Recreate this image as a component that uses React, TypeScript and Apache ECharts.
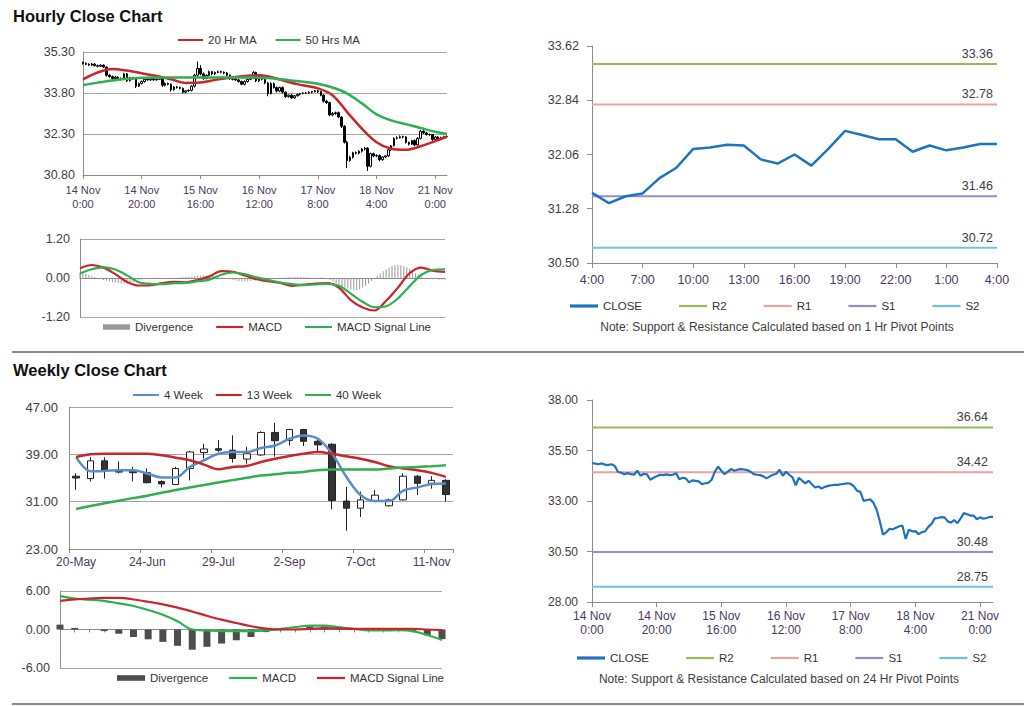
import React, { useEffect, useRef } from "react";
import * as echarts from "echarts";

const FONT = "'Liberation Sans', Arial, sans-serif";

// ---------------- Hourly data: 14 Nov 0:00 .. 21 Nov 4:00 (125 bars) ----------------
const hourTickLabels = ["14 Nov\n0:00", "14 Nov\n20:00", "15 Nov\n16:00", "16 Nov\n12:00", "17 Nov\n8:00", "18 Nov\n4:00", "21 Nov\n0:00"];

const hourlyOpen = [
  34.92, 34.88, 34.85, 34.82, 34.86, 34.80, 34.78, 34.82, 34.75, 34.45,
  34.40, 34.33, 34.38, 34.33, 34.30, 34.50, 34.25, 34.35, 34.32, 34.05,
  34.15, 34.22, 34.30, 34.28, 34.32, 34.28, 34.30, 34.38, 34.08, 34.15,
  34.12, 33.92, 34.02, 34.00, 33.97, 33.83, 33.88, 33.90, 34.05, 34.45,
  34.70, 34.50, 34.33, 34.45, 34.58, 34.50, 34.55, 34.58, 34.56, 34.53,
  34.45, 34.33, 34.30, 34.28, 34.22, 34.12, 34.22, 34.30, 34.35, 34.55,
  34.25, 34.45, 34.30, 34.17, 33.78, 34.15, 34.00, 33.87, 34.00, 33.83,
  33.67, 33.72, 33.62, 33.70, 33.75, 33.78, 33.80, 33.80, 33.83, 33.85,
  33.88, 33.85, 33.72, 33.50, 33.45, 33.00, 33.05, 33.08, 32.92, 32.58,
  32.00, 31.33, 31.45, 31.62, 31.60, 31.67, 31.75, 31.78, 31.12, 31.58,
  31.50, 31.51, 31.36, 31.46, 31.50, 31.72, 31.87, 32.14, 32.16, 32.20,
  32.19, 31.99, 31.93, 32.06, 31.90, 32.14, 32.40, 32.34, 32.28, 32.28,
  32.10, 32.19, 32.12, 32.16, 32.21,
];
const hourlyClose = [
  34.88, 34.85, 34.82, 34.86, 34.80, 34.78, 34.82, 34.75, 34.45, 34.40,
  34.33, 34.38, 34.33, 34.30, 34.50, 34.25, 34.35, 34.32, 34.05, 34.15,
  34.22, 34.30, 34.28, 34.32, 34.28, 34.30, 34.38, 34.08, 34.15, 34.12,
  33.92, 34.02, 34.00, 33.97, 33.83, 33.88, 33.90, 34.05, 34.45, 34.70,
  34.50, 34.33, 34.45, 34.58, 34.50, 34.55, 34.58, 34.56, 34.53, 34.45,
  34.33, 34.30, 34.28, 34.22, 34.12, 34.22, 34.30, 34.35, 34.55, 34.25,
  34.45, 34.30, 34.17, 33.78, 34.15, 34.00, 33.87, 34.00, 33.83, 33.67,
  33.72, 33.62, 33.70, 33.75, 33.78, 33.80, 33.80, 33.83, 33.85, 33.88,
  33.85, 33.72, 33.50, 33.45, 33.00, 33.05, 33.08, 32.92, 32.58, 32.00,
  31.33, 31.45, 31.62, 31.60, 31.67, 31.75, 31.78, 31.12, 31.58, 31.50,
  31.51, 31.36, 31.46, 31.50, 31.72, 31.87, 32.14, 32.16, 32.20, 32.19,
  31.99, 31.93, 32.06, 31.90, 32.14, 32.40, 32.34, 32.28, 32.28, 32.10,
  32.19, 32.12, 32.16, 32.21, 32.21,
];
const hourlyHigh = [
  34.95, 34.92, 34.89, 34.90, 34.89, 34.84, 34.85, 34.85, 34.78, 34.50,
  34.44, 34.42, 34.41, 34.37, 34.54, 34.53, 34.39, 34.39, 34.35, 34.18,
  34.26, 34.34, 34.33, 34.36, 34.35, 34.34, 34.42, 34.41, 34.19, 34.18,
  34.15, 34.05, 34.06, 34.04, 34.00, 33.91, 33.93, 34.08, 34.50, 34.95,
  34.82, 34.55, 34.48, 34.62, 34.61, 34.59, 34.62, 34.62, 34.59, 34.57,
  34.48, 34.37, 34.33, 34.31, 34.25, 34.26, 34.33, 34.38, 34.60, 34.58,
  34.49, 34.48, 34.33, 34.21, 34.19, 34.18, 34.04, 34.03, 34.04, 33.86,
  33.75, 33.76, 33.73, 33.78, 33.80, 33.83, 33.84, 33.86, 33.88, 33.91,
  33.91, 33.88, 33.75, 33.55, 33.48, 33.10, 33.12, 33.12, 32.95, 32.62,
  32.05, 31.50, 31.65, 31.66, 31.70, 31.78, 31.82, 31.82, 31.62, 31.62,
  31.56, 31.55, 31.48, 31.52, 31.75, 31.90, 32.18, 32.22, 32.25, 32.24,
  32.22, 32.02, 32.09, 32.10, 32.18, 32.45, 32.44, 32.38, 32.32, 32.30,
  32.23, 32.22, 32.20, 32.24, 32.25,
];
const hourlyLow = [
  34.84, 34.82, 34.79, 34.79, 34.77, 34.74, 34.75, 34.72, 34.40, 34.36,
  34.28, 34.30, 34.29, 34.26, 34.27, 34.20, 34.22, 34.28, 33.98, 34.02,
  34.11, 34.18, 34.25, 34.24, 34.25, 34.25, 34.27, 34.02, 34.04, 34.08,
  33.85, 33.88, 33.96, 33.93, 33.78, 33.79, 33.84, 33.86, 34.00, 34.40,
  34.45, 34.28, 34.30, 34.41, 34.45, 34.46, 34.52, 34.52, 34.49, 34.40,
  34.28, 34.26, 34.24, 34.18, 34.08, 34.08, 34.18, 34.27, 34.31, 34.20,
  34.20, 34.26, 34.12, 33.68, 33.74, 33.96, 33.82, 33.83, 33.78, 33.62,
  33.63, 33.58, 33.59, 33.67, 33.71, 33.75, 33.76, 33.77, 33.79, 33.82,
  33.80, 33.68, 33.45, 33.40, 32.95, 32.95, 33.00, 32.88, 32.52, 31.95,
  31.05, 31.28, 31.40, 31.55, 31.55, 31.62, 31.70, 30.95, 31.08, 31.45,
  31.45, 31.30, 31.32, 31.42, 31.46, 31.68, 31.84, 32.10, 32.13, 32.14,
  31.95, 31.88, 31.90, 31.86, 31.88, 32.10, 32.30, 32.24, 32.22, 32.05,
  32.06, 32.08, 32.10, 32.13, 32.16,
];

const maHours = [0, 5, 10, 15, 20, 25, 30, 35, 40, 45, 50, 55, 60, 65, 70, 75, 80, 85, 90, 95, 100, 105, 110, 115, 120, 124];
const hourlyMA20 = [34.30, 34.55, 34.68, 34.62, 34.52, 34.42, 34.30, 34.17, 34.18, 34.28, 34.36, 34.42, 34.45, 34.36, 34.20, 34.08, 33.97, 33.72, 33.10, 32.50, 32.00, 31.76, 31.72, 31.85, 32.04, 32.20];
const hourlyMA50 = [34.09, 34.18, 34.26, 34.32, 34.36, 34.37, 34.37, 34.37, 34.37, 34.37, 34.37, 34.37, 34.36, 34.33, 34.27, 34.21, 34.14, 34.00, 33.78, 33.42, 33.02, 32.80, 32.66, 32.52, 32.38, 32.30];

const macdHours = [0, 4, 8, 12, 16, 20, 24, 28, 32, 36, 40, 44, 48, 52, 56, 60, 64, 68, 72, 76, 80, 84, 88, 92, 96, 100, 104, 108, 112, 116, 120, 124];
const hourlyMACD = [0.30, 0.40, 0.32, 0.12, -0.12, -0.23, -0.22, -0.16, -0.12, -0.13, -0.06, 0.05, 0.21, 0.19, 0.08, -0.04, -0.10, -0.15, -0.24, -0.20, -0.17, -0.16, -0.30, -0.68, -0.91, -1.00, -0.70, -0.30, 0.15, 0.32, 0.22, 0.19];
const hourlySignal = [0.14, 0.27, 0.33, 0.26, 0.08, -0.13, -0.18, -0.19, -0.16, -0.15, -0.10, -0.05, 0.10, 0.17, 0.12, 0.02, -0.06, -0.14, -0.19, -0.22, -0.20, -0.18, -0.24, -0.48, -0.73, -0.90, -0.87, -0.63, -0.25, 0.10, 0.25, 0.27];
const hourlyDivergence = [
  0.16, 0.14, 0.12, 0.09, 0.06, 0.03, 0.00, -0.03, -0.06, -0.08,
  -0.10, -0.12, -0.14, -0.16, -0.17, -0.17, -0.16, -0.14, -0.12, -0.09,
  -0.07, -0.05, -0.03, -0.02, -0.01, 0.00, 0.01, 0.01, 0.00, -0.01,
  -0.01, 0.00, 0.01, 0.01, 0.02, 0.02, 0.03, 0.04, 0.05, 0.06,
  0.07, 0.08, 0.08, 0.08, 0.07, 0.06, 0.05, 0.04, 0.02, 0.00,
  -0.02, -0.04, -0.06, -0.08, -0.10, -0.11, -0.11, -0.10, -0.09, -0.07,
  -0.05, -0.04, -0.03, -0.02, -0.01, -0.01, 0.00, 0.00, 0.01, 0.01,
  0.02, 0.02, 0.02, 0.03, 0.03, 0.03, 0.02, 0.02, 0.01, 0.00,
  0.00, 0.01, 0.02, 0.01, -0.02, -0.06, -0.10, -0.15, -0.20, -0.25,
  -0.29, -0.32, -0.35, -0.37, -0.37, -0.35, -0.30, -0.24, -0.17, -0.09,
  -0.01, 0.07, 0.14, 0.21, 0.27, 0.32, 0.36, 0.39, 0.40, 0.39,
  0.37, 0.33, 0.28, 0.22, 0.15, 0.09, 0.04, 0.00, -0.02, -0.03,
  -0.04, -0.04, -0.05, -0.05, -0.05,
];

// Last 24 hours (20 Nov 4:00 .. 21 Nov 4:00)
const dayHours = ["4:00", "5:00", "6:00", "7:00", "8:00", "9:00", "10:00", "11:00", "12:00", "13:00", "14:00", "15:00", "16:00", "17:00", "18:00", "19:00", "20:00", "21:00", "22:00", "23:00", "0:00", "1:00", "2:00", "3:00", "4:00"];
const dayClose = hourlyClose.slice(-dayHours.length);

const pivotNames = ["R2", "R1", "S1", "S2"];
const hourPivots = [33.36, 32.78, 31.46, 30.72];
const dailyPivots = [36.64, 34.42, 30.48, 28.75];

// ---------------- Weekly data ----------------
const weekDates = ["20-May", "27-May", "3-Jun", "10-Jun", "17-Jun", "24-Jun", "1-Jul", "8-Jul", "15-Jul", "22-Jul", "29-Jul", "5-Aug", "12-Aug", "19-Aug", "26-Aug", "2-Sep", "9-Sep", "16-Sep", "23-Sep", "30-Sep", "7-Oct", "14-Oct", "21-Oct", "28-Oct", "4-Nov", "11-Nov", "18-Nov"];
const weekOpen = [35.3, 34.9, 37.9, 36.2, 36.2, 35.9, 34.4, 33.9, 36.6, 39.3, 39.95, 39.7, 38.2, 38.9, 42.7, 41.35, 43.2, 41.2, 40.7, 31.1, 29.9, 31.2, 30.3, 31.3, 35.3, 34.1, 34.6];
const weekClose = [35.0, 37.9, 36.3, 36.0, 35.9, 34.2, 34.0, 36.6, 39.4, 39.9, 39.7, 38.3, 39.1, 42.7, 41.3, 43.2, 41.2, 40.6, 31.2, 29.9, 31.3, 32.1, 31.3, 35.3, 34.1, 34.6, 32.2];
const weekLow = [33.0, 34.4, 34.9, 35.8, 34.4, 34.1, 33.4, 33.8, 34.6, 38.3, 39.4, 37.6, 37.4, 38.7, 38.6, 40.5, 40.4, 39.2, 29.7, 26.1, 28.4, 31.0, 30.2, 31.2, 32.1, 33.2, 31.0];
const weekHigh = [35.8, 38.5, 38.5, 37.8, 36.9, 36.6, 34.6, 36.9, 39.6, 40.8, 41.4, 42.2, 40.3, 42.9, 44.3, 43.3, 43.3, 41.5, 40.9, 33.5, 32.7, 33.0, 31.5, 35.8, 35.5, 35.3, 34.8];
const ma4Week = [38.55, 36.15, 36.2, 36.3, 36.3, 35.76, 35.1, 35.1, 36.87, 38.0, 39.1, 39.4, 39.4, 40.06, 40.5, 41.63, 42.19, 41.63, 39.1, 35.2, 32.12, 31.1, 31.1, 32.85, 33.41, 33.97, 34.08];
const ma13Week = [38.55, 39.0, 39.1, 39.1, 39.1, 39.1, 38.83, 38.44, 38.0, 37.27, 36.48, 36.87, 37.04, 37.71, 38.27, 38.72, 39.1, 39.4, 39.1, 38.66, 38.27, 37.71, 36.99, 36.6, 36.31, 35.87, 35.2];
const ma40Week = [29.77, 30.27, 30.72, 31.17, 31.6, 32.0, 32.5, 32.96, 33.4, 33.8, 34.25, 34.64, 35.03, 35.42, 35.64, 35.87, 36.03, 36.31, 36.43, 36.43, 36.43, 36.43, 36.6, 36.76, 36.87, 36.99, 37.15];
const weekMACD = [5.19, 4.83, 4.65, 4.47, 4.07, 3.66, 3.05, 2.29, 1.27, 0.0, -0.15, -0.25, -0.25, -0.25, -0.15, 0.1, 0.36, 0.61, 0.61, 0.36, 0.1, -0.15, -0.15, -0.1, -0.25, -0.86, -1.63];
const weekSignal = [4.47, 4.68, 4.83, 4.93, 4.93, 4.68, 4.32, 3.92, 3.41, 2.8, 2.14, 1.53, 1.02, 0.51, 0.15, 0.0, 0.0, 0.1, 0.2, 0.15, 0.1, 0.1, 0.1, 0.1, 0.1, 0.0, -0.1];
const weekDivergence = [0.76, 0.25, 0.0, -0.25, -0.66, -1.17, -1.53, -1.93, -2.54, -3.15, -2.7, -2.19, -1.68, -1.17, -0.4, -0.1, 0.1, 0.5, 0.5, 0.25, 0.05, -0.1, -0.1, -0.1, -0.25, -0.9, -1.5];

// ---------------- Styling ----------------
const RED = "#C8262C";
const GREEN = "#2DB04E";
const BLUE4 = "#5B8DC8";
const CLOSE_BLUE = "#1E73BE";
const pivotColors = ["#9BBB59", "#EBA3A3", "#9E8BC4", "#6CC6E0"];
const GRID = "#a6a6a6";
const AXIS = "#8c8c8c";
const LABEL = "#404040";
const DATE = "#4b3a5c";
const lineIcon = "path://M0,0H30V2.4H0Z";
const thickIcon = "path://M0,0H30V3.4H0Z";
const barIcon = "path://M0,0H30V6H0Z";

const hourCats = hourlyClose.map((_, i) => String(i));
const hourFormatter = (_v: string, i: number) => (i % 20 === 0 ? hourTickLabels[i / 20] ?? "" : "");
const fmt2 = (v: number) => v.toFixed(2);
const stripPrefix = (n: string) => n.replace(/^(wk|d):/, "");

function yAxis(grid: number, min: number, max: number, interval: number, extra: any = {}) {
  return {
    type: "value",
    gridIndex: grid,
    min,
    max,
    interval,
    axisLine: { show: true, lineStyle: { color: AXIS, width: 1 } },
    axisTick: { show: false },
    splitLine: { show: true, lineStyle: { color: GRID, width: 1 } },
    axisLabel: { fontFamily: FONT, fontSize: 12.5, color: LABEL, formatter: fmt2, margin: 8 },
    ...extra,
  };
}

function pivotSeries(prefix: string, values: number[], axis: number, n: number, dist: number) {
  return pivotNames.map((nm, k) => ({
    type: "line",
    name: prefix + nm,
    xAxisIndex: axis,
    yAxisIndex: axis,
    data: Array.from({ length: n }, () => values[k]),
    symbol: "none",
    color: pivotColors[k],
    itemStyle: { color: pivotColors[k] },
    lineStyle: { width: 2, color: pivotColors[k] },
    z: 2,
    silent: true,
    markPoint: {
      symbol: "circle",
      symbolSize: 0,
      silent: true,
      data: [{ coord: [n - 1, values[k]], value: values[k] }],
      label: {
        show: true,
        position: "left",
        distance: dist,
        offset: [0, -10],
        formatter: fmt2(values[k]),
        fontFamily: FONT,
        fontSize: 12.5,
        color: LABEL,
      },
    },
  }));
}

function buildOption(): any {
  const legendText = { fontFamily: FONT, fontSize: 11.5, color: "#333" };
  const legendBase = { orient: "horizontal", itemHeight: 14, padding: 0, selectedMode: false, textStyle: legendText, formatter: stripPrefix };
  return {
    animation: false,
    backgroundColor: "#ffffff",
    textStyle: { fontFamily: FONT },
    grid: [
      { left: 83, top: 52, width: 364, height: 123, outerBoundsMode: "none" },
      { left: 80, top: 239, width: 365, height: 78, outerBoundsMode: "none" },
      { left: 592, top: 46, width: 405, height: 217, outerBoundsMode: "none" },
      { left: 69, top: 407, width: 384, height: 142, outerBoundsMode: "none" },
      { left: 60, top: 591, width: 382, height: 77, outerBoundsMode: "none" },
      { left: 592, top: 400, width: 401, height: 202, outerBoundsMode: "none" },
    ],
    xAxis: [
      {
        type: "category", gridIndex: 0, data: hourCats, boundaryGap: false,
        axisLine: { lineStyle: { color: AXIS } },
        axisTick: { show: true, interval: 19, length: 4, lineStyle: { color: AXIS } },
        axisLabel: { interval: 19, formatter: hourFormatter, fontFamily: FONT, fontSize: 11, lineHeight: 14, color: DATE, margin: 8 },
        splitLine: { show: false },
      },
      {
        type: "category", gridIndex: 1, data: hourCats, boundaryGap: false,
        axisLine: { onZero: true, lineStyle: { color: AXIS } },
        axisTick: { show: false }, axisLabel: { show: false }, splitLine: { show: false },
      },
      {
        type: "category", gridIndex: 2, data: dayHours, boundaryGap: false,
        axisLine: { lineStyle: { color: AXIS } },
        axisTick: { show: true, interval: 2, length: 5, lineStyle: { color: AXIS } },
        axisLabel: { interval: 2, fontFamily: FONT, fontSize: 12.5, color: DATE, margin: 10 },
        splitLine: { show: false },
      },
      {
        type: "category", gridIndex: 3, data: weekDates, boundaryGap: true,
        axisLine: { lineStyle: { color: AXIS } },
        axisTick: { show: true, interval: 4, length: 4, lineStyle: { color: AXIS } },
        axisLabel: { interval: 4, fontFamily: FONT, fontSize: 12, color: DATE, margin: 7 },
        splitLine: { show: false },
      },
      {
        type: "category", gridIndex: 4, data: weekDates, boundaryGap: false,
        axisLine: { onZero: true, lineStyle: { color: AXIS } },
        axisTick: { show: true, interval: 0, length: 3, lineStyle: { color: AXIS } },
        axisLabel: { show: false }, splitLine: { show: false },
      },
      {
        type: "category", gridIndex: 5, data: hourCats, boundaryGap: false,
        axisLine: { lineStyle: { color: AXIS } },
        axisTick: { show: true, interval: 19, length: 5, lineStyle: { color: AXIS } },
        axisLabel: { interval: 19, formatter: hourFormatter, fontFamily: FONT, fontSize: 12, lineHeight: 14, color: DATE, margin: 7 },
        splitLine: { show: false },
      },
    ],
    yAxis: [
      yAxis(0, 30.8, 35.3, 1.5),
      yAxis(1, -1.2, 1.2, 1.2, { axisLabel: { fontFamily: FONT, fontSize: 12.5, color: LABEL, formatter: fmt2, margin: 10 } }),
      yAxis(2, 30.5, 33.62, 0.78, {
        splitLine: { show: false },
        axisTick: { show: true, length: 5, lineStyle: { color: AXIS } },
        axisLabel: { fontFamily: FONT, fontSize: 12.5, color: LABEL, formatter: fmt2, margin: 13 },
      }),
      yAxis(3, 23, 47, 8, { axisLabel: { fontFamily: FONT, fontSize: 13, color: LABEL, formatter: fmt2, margin: 11 } }),
      yAxis(4, -6, 6, 6, { axisLabel: { fontFamily: FONT, fontSize: 12.5, color: LABEL, formatter: fmt2, margin: 10 } }),
      yAxis(5, 28, 38, 2.5, {
        splitLine: { show: false },
        axisTick: { show: true, length: 5, lineStyle: { color: AXIS } },
        axisLabel: { fontFamily: FONT, fontSize: 12, color: LABEL, formatter: fmt2, margin: 14 },
      }),
    ],
    legend: [
      { ...legendBase, left: 178, top: 34, itemWidth: 25, itemGap: 19, data: [{ name: "20 Hr MA", icon: lineIcon }, { name: "50 Hrs MA", icon: lineIcon }] },
      { ...legendBase, left: 103, top: 321, itemWidth: 27, itemGap: 23, data: [{ name: "Divergence", icon: barIcon }, { name: "MACD", icon: lineIcon }, { name: "MACD Signal Line", icon: lineIcon }] },
      { ...legendBase, left: 570, top: 300, itemWidth: 28, itemGap: 37, data: [{ name: "CLOSE", icon: thickIcon }, ...pivotNames.map((n) => ({ name: n, icon: lineIcon }))] },
      { ...legendBase, left: 133, top: 389, itemWidth: 26, itemGap: 13, data: [{ name: "4 Week", icon: lineIcon }, { name: "13 Week", icon: lineIcon }, { name: "40 Week", icon: lineIcon }] },
      { ...legendBase, left: 117, top: 672, itemWidth: 28, itemGap: 21, data: [{ name: "wk:Divergence", icon: barIcon }, { name: "wk:MACD", icon: lineIcon }, { name: "wk:MACD Signal Line", icon: lineIcon }] },
      { ...legendBase, left: 577, top: 652, itemWidth: 28, itemGap: 37, data: [{ name: "d:CLOSE", icon: thickIcon }, ...pivotNames.map((n) => ({ name: "d:" + n, icon: lineIcon }))] },
    ],
    graphic: [
      { type: "text", left: 13, top: 7, style: { text: "Hourly Close Chart", font: `bold 16.5px ${FONT}`, fill: "#111" } },
      { type: "text", left: 13, top: 361, style: { text: "Weekly Close Chart", font: `bold 16.5px ${FONT}`, fill: "#111" } },
      { type: "text", style: { x: 777, y: 327, text: "Note: Support & Resistance Calculated based on 1 Hr Pivot Points", font: `12px ${FONT}`, fill: LABEL, align: "center", verticalAlign: "middle" } },
      { type: "text", style: { x: 779, y: 679, text: "Note: Support & Resistance Calculated based on 24 Hr Pivot Points", font: `12px ${FONT}`, fill: LABEL, align: "center", verticalAlign: "middle" } },
      { type: "rect", shape: { x: 12, y: 351, width: 1012, height: 2 }, style: { fill: "#8a8a8a" } },
      { type: "rect", shape: { x: 12, y: 703, width: 1012, height: 2 }, style: { fill: "#8a8a8a" } },
    ],
    series: [
      // Hourly candles + MAs
      {
        type: "candlestick", name: "Hourly", xAxisIndex: 0, yAxisIndex: 0, barWidth: 2,
        data: hourlyOpen.map((o, i) => [o, hourlyClose[i], hourlyLow[i], hourlyHigh[i]]),
        itemStyle: { color: "#ffffff", color0: "#000000", borderColor: "#000000", borderColor0: "#000000", borderWidth: 1 },
        z: 3,
      },
      { type: "line", name: "20 Hr MA", xAxisIndex: 0, yAxisIndex: 0, data: maHours.map((h, k) => [h, hourlyMA20[k]]), smooth: 0.35, symbol: "none", color: RED, itemStyle: { color: RED }, lineStyle: { color: RED, width: 2.5 }, z: 4 },
      { type: "line", name: "50 Hrs MA", xAxisIndex: 0, yAxisIndex: 0, data: maHours.map((h, k) => [h, hourlyMA50[k]]), smooth: 0.35, symbol: "none", color: GREEN, itemStyle: { color: GREEN }, lineStyle: { color: GREEN, width: 2.5 }, z: 4 },
      // Hourly MACD
      { type: "bar", name: "Divergence", xAxisIndex: 1, yAxisIndex: 1, data: hourlyDivergence, barWidth: 1, color: "#999999", itemStyle: { color: "#999999" } },
      { type: "line", name: "MACD", xAxisIndex: 1, yAxisIndex: 1, data: macdHours.map((h, k) => [h, hourlyMACD[k]]), smooth: 0.3, symbol: "none", color: RED, itemStyle: { color: RED }, lineStyle: { color: RED, width: 2.2 }, z: 4 },
      { type: "line", name: "MACD Signal Line", xAxisIndex: 1, yAxisIndex: 1, data: macdHours.map((h, k) => [h, hourlySignal[k]]), smooth: 0.3, symbol: "none", color: GREEN, itemStyle: { color: GREEN }, lineStyle: { color: GREEN, width: 2.2 }, z: 4 },
      // Last day close with 1 Hr pivots
      ...pivotSeries("", hourPivots, 2, dayHours.length, 4),
      { type: "line", name: "CLOSE", xAxisIndex: 2, yAxisIndex: 2, data: dayClose, symbol: "none", color: CLOSE_BLUE, itemStyle: { color: CLOSE_BLUE }, lineStyle: { color: CLOSE_BLUE, width: 2.5 }, z: 5 },
      // Weekly candles + MAs
      {
        type: "candlestick", name: "Weekly", xAxisIndex: 3, yAxisIndex: 3, barWidth: 7,
        data: weekOpen.map((o, i) => [o, weekClose[i], weekLow[i], weekHigh[i]]),
        itemStyle: { color: "#ffffff", color0: "#333333", borderColor: "#222222", borderColor0: "#222222", borderWidth: 1 },
        z: 3,
      },
      { type: "line", name: "4 Week", xAxisIndex: 3, yAxisIndex: 3, data: ma4Week, smooth: 0.35, symbol: "none", color: BLUE4, itemStyle: { color: BLUE4 }, lineStyle: { color: BLUE4, width: 2.5 }, z: 4 },
      { type: "line", name: "13 Week", xAxisIndex: 3, yAxisIndex: 3, data: ma13Week, smooth: 0.35, symbol: "none", color: RED, itemStyle: { color: RED }, lineStyle: { color: RED, width: 2.5 }, z: 4 },
      { type: "line", name: "40 Week", xAxisIndex: 3, yAxisIndex: 3, data: ma40Week, smooth: 0.35, symbol: "none", color: GREEN, itemStyle: { color: GREEN }, lineStyle: { color: GREEN, width: 2.5 }, z: 4 },
      // Weekly MACD
      { type: "bar", name: "wk:Divergence", xAxisIndex: 4, yAxisIndex: 4, data: weekDivergence, barWidth: 7, color: "#4d4d4d", itemStyle: { color: "#4d4d4d" } },
      { type: "line", name: "wk:MACD", xAxisIndex: 4, yAxisIndex: 4, data: weekMACD, smooth: 0.35, symbol: "none", color: GREEN, itemStyle: { color: GREEN }, lineStyle: { color: GREEN, width: 2.2 }, z: 4 },
      { type: "line", name: "wk:MACD Signal Line", xAxisIndex: 4, yAxisIndex: 4, data: weekSignal, smooth: 0.35, symbol: "none", color: RED, itemStyle: { color: RED }, lineStyle: { color: RED, width: 2.2 }, z: 4 },
      // Hourly close with 24 Hr pivots
      ...pivotSeries("d:", dailyPivots, 5, hourlyClose.length, 5),
      { type: "line", name: "d:CLOSE", xAxisIndex: 5, yAxisIndex: 5, data: hourlyClose, symbol: "none", color: CLOSE_BLUE, itemStyle: { color: CLOSE_BLUE }, lineStyle: { color: CLOSE_BLUE, width: 2.2 }, z: 5 },
    ],
  };
}

export default function App() {
  const ref = useRef<HTMLDivElement>(null);
  useEffect(() => {
    if (!ref.current) return;
    const chart = echarts.init(ref.current, null, { renderer: "svg" });
    chart.setOption(buildOption());
    return () => chart.dispose();
  }, []);
  return (
    <div
      ref={ref}
      style={{ position: "absolute", left: 0, top: 0, width: 1024, height: 706, background: "#fff" }}
    />
  );
}
